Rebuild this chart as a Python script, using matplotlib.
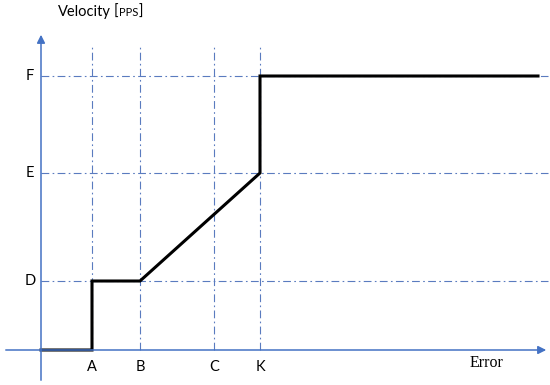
import matplotlib.pyplot as plt

# positions (error axis / velocity axis)
x_names = ['A', 'B', 'C', 'K']
x_pos = [51, 99, 173, 219]
y_names = ['D', 'E', 'F']
y_pos = [69, 177, 274]

# velocity profile
curve_x = [0, 51, 51, 99, 219, 219, 497]
curve_y = [0, 0, 69, 69, 177, 274, 274]

blue = '#4472C4'
grid_c = '#5A7BBF'

fig = plt.figure(figsize=(5.5, 3.85), dpi=100)
ax = fig.add_axes([0, 0, 1, 1])
ax.set_xlim(-41, 509)
ax.set_ylim(-35, 350)
ax.axis('off')

# dash-dot guides
for x in x_pos:
    ax.plot([x, x], [0, 303], color=grid_c, lw=0.8, dashes=(7, 3, 1.5, 3))
for y in y_pos:
    ax.plot([0, 507], [y, y], color=grid_c, lw=0.8, dashes=(7, 3, 1.5, 3))

# axes with arrows
ax.annotate('', xy=(0, 318), xytext=(0, -33),
            arrowprops=dict(arrowstyle='-|>', color=blue, lw=1.1, mutation_scale=12))
ax.annotate('', xy=(508, 0), xytext=(-38, 0),
            arrowprops=dict(arrowstyle='-|>', color=blue, lw=1.1, mutation_scale=12))

ax.plot(curve_x, curve_y, color='black', lw=2.2, solid_joinstyle='miter')

font = 'Lato'
for n, x in zip(x_names, x_pos):
    ax.text(x, -17, n, ha='center', va='center', fontsize=10.5, family=font)
for n, y in zip(y_names, y_pos):
    ax.text(-11, y, n, ha='center', va='center', fontsize=10.5, family=font)

ax.text(446, -13, 'Error', ha='center', va='center', fontsize=11.5, family='Liberation Serif')

# axis title with small-caps unit, pieces placed one after another on one baseline
pieces = [('Velocity', 10.5, 0), ('[', 10.5, 3), ('PPS', 8, 0.5), (']', 10.5, 0.5)]
x0 = 17
fig.canvas.draw()
r = fig.canvas.get_renderer()
for s, fs, gap in pieces:
    x0 += gap
    t = ax.text(x0, 334, s, ha='left', va='baseline', fontsize=fs, family=font)
    ext = t.get_window_extent(renderer=r)
    x0 = ax.transData.inverted().transform((ext.x1, 0))[0]

fig.savefig('out.png', dpi=100)
